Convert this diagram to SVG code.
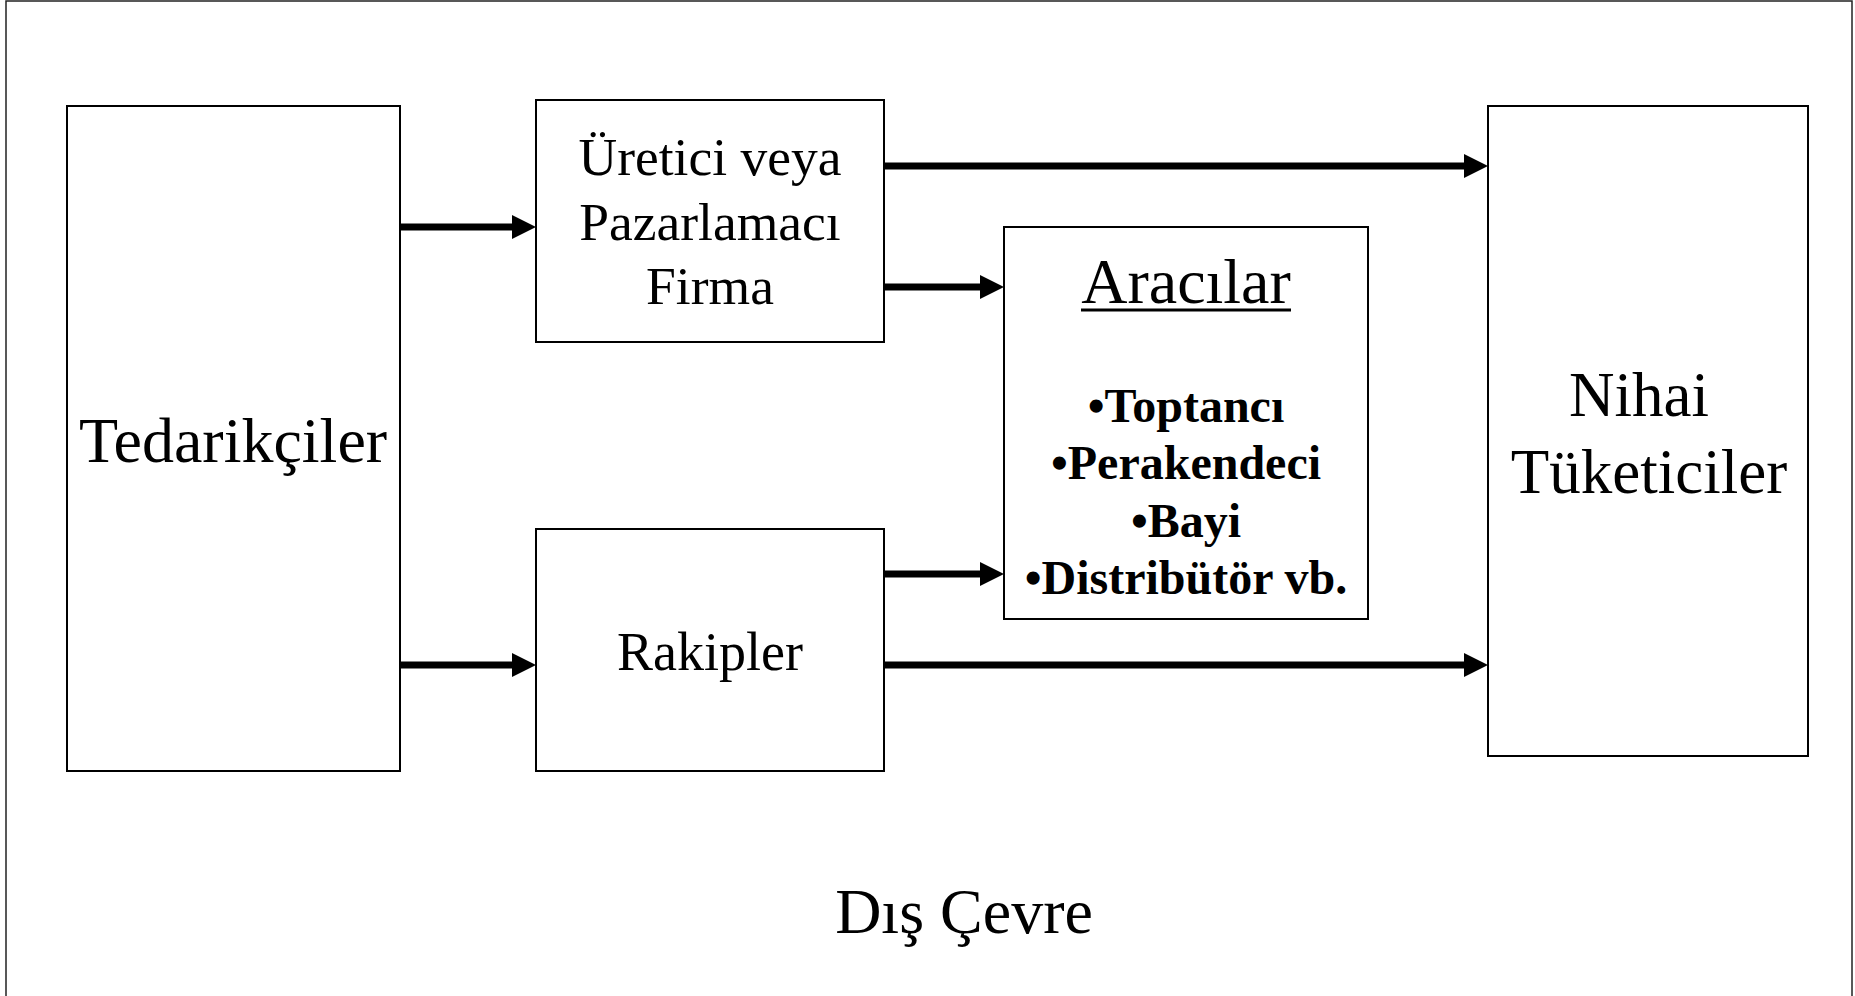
<svg xmlns="http://www.w3.org/2000/svg" width="1855" height="996" viewBox="0 0 1855 996">
  <style>
    .box { fill: #ffffff; stroke: #000000; stroke-width: 2; }
    .lbl { font-family: "Liberation Serif", "Times New Roman", serif; fill: #000000; text-anchor: middle; }
    .item { font-family: "Liberation Serif", "Times New Roman", serif; font-weight: bold; font-size: 48px; fill: #000000; text-anchor: middle; }
    .flow { stroke: #000000; stroke-width: 7; fill: none; marker-end: url(#head); }
  </style>
  <defs>
    <marker id="head" markerUnits="userSpaceOnUse" markerWidth="24" markerHeight="24" refX="2" refY="12" orient="auto" viewBox="0 0 24 24">
      <path d="M0,0 L24,12 L0,24 Z" fill="#000000"/>
    </marker>
  </defs>

  <rect width="1855" height="996" fill="#ffffff"/>

  <!-- outer environment frame -->
  <g id="environment">
    <rect x="6" y="1" width="1846" height="1010" fill="none" stroke="#222222" stroke-width="1.5"/>
    <text class="lbl" x="964" y="933" font-size="64">Dış Çevre</text>
  </g>

  <g id="suppliers">
    <rect class="box" x="67" y="106" width="333" height="665"/>
    <text class="lbl" x="233" y="462" font-size="64">Tedarikçiler</text>
  </g>

  <g id="producer">
    <rect class="box" x="536" y="100" width="348" height="242"/>
    <text class="lbl" x="710" y="175" font-size="53.5">Üretici veya</text>
    <text class="lbl" x="710" y="240" font-size="53.5">Pazarlamacı</text>
    <text class="lbl" x="710" y="304" font-size="53.5">Firma</text>
  </g>

  <g id="competitors">
    <rect class="box" x="536" y="529" width="348" height="242"/>
    <text class="lbl" x="710" y="670" font-size="54">Rakipler</text>
  </g>

  <g id="intermediaries">
    <rect class="box" x="1004" y="227" width="364" height="392"/>
    <text class="lbl" x="1186" y="303" font-size="64">Aracılar</text>
    <line x1="1081" y1="310" x2="1291" y2="310" stroke="#000000" stroke-width="3"/>
    <text class="item" x="1186" y="422">•Toptancı</text>
    <text class="item" x="1186" y="479">•Perakendeci</text>
    <text class="item" x="1186" y="537">•Bayi</text>
    <text class="item" x="1186" y="594">•Distribütör vb.</text>
  </g>

  <g id="consumers">
    <rect class="box" x="1488" y="106" width="320" height="650"/>
    <text class="lbl" x="1639" y="416" font-size="63">Nihai</text>
    <text class="lbl" x="1649" y="493" font-size="63">Tüketiciler</text>
  </g>

  <!-- flow arrows -->
  <g id="connectors">
    <line class="flow" x1="400" y1="227" x2="514" y2="227"/>
    <line class="flow" x1="400" y1="665" x2="514" y2="665"/>
    <line class="flow" x1="884" y1="166" x2="1466" y2="166"/>
    <line class="flow" x1="884" y1="287" x2="982" y2="287"/>
    <line class="flow" x1="884" y1="574" x2="982" y2="574"/>
    <line class="flow" x1="884" y1="665" x2="1466" y2="665"/>
  </g>
</svg>
